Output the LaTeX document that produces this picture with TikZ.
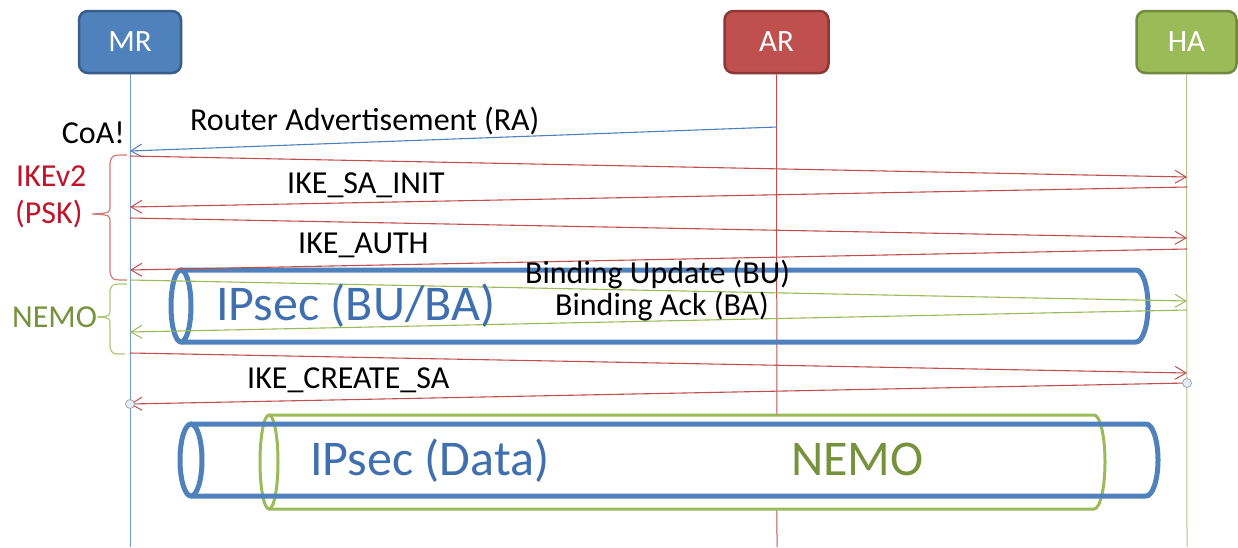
\documentclass[tikz,border=0pt]{standalone}
\usepackage{fontspec}
\setmainfont{Carlito}
\usetikzlibrary{arrows.meta}

\definecolor{offblue}{HTML}{4F81BD}
\definecolor{offblueD}{HTML}{385D8A}
\definecolor{offred}{HTML}{C0504D}
\definecolor{offredD}{HTML}{8C3836}
\definecolor{offgreen}{HTML}{9BBB59}
\definecolor{offgreenD}{HTML}{71893F}
\definecolor{ikered}{HTML}{C0142B}
\definecolor{nemogreen}{HTML}{76923C}
\definecolor{tunneltext}{HTML}{3F6FAF}
\definecolor{hatline}{HTML}{B9C28E}

\tikzset{
  actor/.style={rounded corners=9pt, minimum width=102pt, minimum height=62pt,
    line width=2.5pt, text=white, font=\fontsize{31}{36}\selectfont, inner sep=0pt},
  lifeline/.style={line width=1pt},
  msg/.style={line width=1.1pt, -{Straight Barb[length=11pt,width=13pt,line width=1pt]}},
  lbl/.style={font=\fontsize{32}{38}\selectfont, inner sep=0pt},
  biglbl/.style={font=\fontsize{50}{60}\selectfont, inner sep=0pt},
  bracepath/.style={line width=1.2pt},
  tube/.style={line width=5pt, draw=offblue},
  nemotube/.style={line width=3pt, draw=offgreen, fill=white},
  handle/.style={circle, minimum size=9pt, inner sep=0pt, line width=0.8pt,
    draw=gray!70, fill=offblue!15}
}

\begin{document}
\begin{tikzpicture}[x=1pt,y=-1pt]
  \useasboundingbox[fill=white] (0,0) rectangle (1238,547);

  % entities
  \node[actor, fill=offblue, draw=offblueD] (MR) at (130,42) {MR};
  \node[actor, fill=offred, draw=offredD, minimum width=104pt] (AR) at (776.5,42) {AR};
  \node[actor, fill=offgreen, draw=offgreenD, minimum width=100pt] (HA) at (1186.5,42) {HA};

  % lifelines
  \coordinate (MRend) at (130,547);
  \coordinate (ARend) at (777,547);
  \coordinate (HAend) at (1187,547);
  \draw[lifeline, offblue!80] (MR.south) -- (MRend);
  \draw[lifeline, offred] (AR.south) -- (ARend);
  \draw[lifeline, hatline] (HA.south) -- (HAend);

  % tunnel carrying BU/BA
  \draw[tube] (181,306) ellipse [x radius=10, y radius=36];
  \draw[tube] (181,270) -- (1136,270)
      arc[start angle=-90, end angle=90, x radius=12, y radius=36] -- (181,342);

  % message end points on the lifelines
  \coordinate (ra0) at (777,127);  \coordinate (ra1) at (130,151);
  \coordinate (i10) at (130,156);  \coordinate (i11) at (1187,177);
  \coordinate (i20) at (1187,187); \coordinate (i21) at (130,207);
  \coordinate (i30) at (130,218);  \coordinate (i31) at (1187,238);
  \coordinate (i40) at (1187,249); \coordinate (i41) at (130,270);
  \coordinate (bu0) at (130,280);  \coordinate (bu1) at (1187,301);
  \coordinate (ba0) at (1187,310); \coordinate (ba1) at (130,332);
  \coordinate (c10) at (130,353);  \coordinate (c11) at (1187,373);
  \coordinate (c20) at (1187,383); \coordinate (c21) at (130,404);

  % messages
  \draw[msg, offblue] (ra0) -- (ra1);
  \draw[msg, offred] (i10) -- (i11);
  \draw[msg, offred] (i20) -- (i21);
  \draw[msg, offred] (i30) -- (i31);
  \draw[msg, offred] (i40) -- (i41);
  \draw[msg, offgreen] (bu0) -- (bu1);
  \draw[msg, offgreen] (ba0) -- (ba1);
  \draw[msg, offred] (c10) -- (c11);
  \draw[msg, offred] (c20) -- (c21);

  \node[handle] (hHA) at (c20) {};
  \node[handle] (hMR) at (c21) {};

  % message labels
  \node[lbl, anchor=base west] (lra) at (190,130) {Router Advertisement (RA)};
  \node[lbl, anchor=base east] (coa) at (125,143) {CoA!};
  \node[lbl, anchor=base west] (lsa) at (287,193) {IKE\_SA\_INIT};
  \node[lbl, anchor=base west] (lau) at (298,253) {IKE\_AUTH};
  \node[lbl, anchor=base west] (lbu) at (525,283) {Binding Update (BU)};
  \node[lbl, anchor=base west] (lba) at (555,315) {Binding Ack (BA)};
  \node[lbl, anchor=base west] (lcs) at (247,388) {IKE\_CREATE\_SA};

  % grouping braces
  \draw[bracepath, offred!75] (127,155) .. controls (112,155) .. (110,163)
      -- (110,206) .. controls (110,213) .. (92,214)
      .. controls (110,215) .. (110,222) -- (110,272)
      .. controls (112,280) .. (127,280);
  \draw[bracepath, offgreen!80] (127,284) .. controls (112,284) .. (110,290)
      -- (110,310) .. controls (110,316) .. (97,317)
      .. controls (110,318) .. (110,324) -- (110,347)
      .. controls (112,354) .. (125,354);
  \node[lbl, anchor=base west, text=ikered] (ike) at (16,186) {IKEv2};
  \node[lbl, anchor=base west, text=ikered] (psk) at (15,223) {(PSK)};
  \node[lbl, anchor=base west, text=nemogreen] (nemo) at (12,327) {NEMO};

  \node[biglbl, anchor=base west, text=tunneltext] (tbu) at (216,320) {IPsec (BU/BA)};

  % data tunnels: NEMO inside IPsec
  \draw[nemotube] (269,415) -- (1094,415)
      arc[start angle=-90, end angle=90, x radius=11, y radius=47] -- (269,509);
  \draw[nemotube] (269,462) ellipse [x radius=9, y radius=47];
  \draw[tube] (191,460) ellipse [x radius=11, y radius=36];
  \draw[tube] (191,424) -- (1146,424)
      arc[start angle=-90, end angle=90, x radius=12, y radius=36] -- (191,496);

  \node[biglbl, anchor=base west, text=tunneltext] (tdata) at (310,475) {IPsec (Data)};
  \node[biglbl, anchor=base west, text=nemogreen] (tnemo) at (791,475) {NEMO};
\end{tikzpicture}
\end{document}
